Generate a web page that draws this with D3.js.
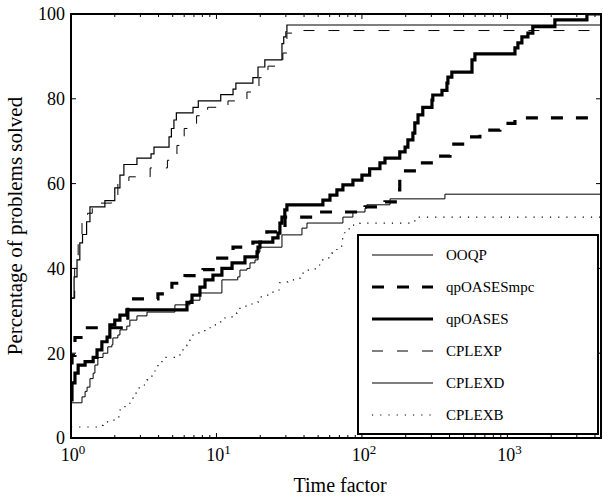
<!DOCTYPE html>
<html>
<head>
<meta charset="utf-8">
<script src="https://cdn.jsdelivr.net/npm/d3@7"></script>
<style>
  body { margin: 0; background: #fff; }
  text { font-family: "Liberation Serif", "Times New Roman", serif; fill: #000; }
</style>
</head>
<body>
<svg id="chart" width="604" height="498"></svg>
<script>
// performance profile data: [time factor, % solved] at each step
const ooqp = [[1,8.3],[1.19,9.7],[1.25,11],[1.29,12],[1.35,14],[1.42,15.3],[1.46,17.2],[1.53,19],[1.66,20],
  [1.79,21.5],[1.91,22],[1.94,23.6],[2.1,24.3],[2.17,25.5],[2.42,26.4],[2.54,27.8],[2.84,28.8],[3.33,29.7],
  [5.18,31.4],[6.57,32.5],[7.7,34.2],[10.9,37.3],[14,38],[14.5,39.6],[16.2,40],[17,41.3],[18.4,42],[19.3,43.9],
  [19.9,45],[28.2,47.9],[38.7,49.5],[41.9,50.7],[74,52.1],[86.7,53.3],[105,54.2],[108,55],[156,56.4],[372,57.5]];

const qpOASESmpc = [[1,17.7],[1.016,19.5],[1.065,23.7],[1.25,26],[2.46,32.8],[3.96,34],[4.94,36.5],[6.08,38.3],
  [8.08,39.7],[10.2,42.4],[13,45],[17.8,46.2],[22.2,48.6],[29.6,52.1],[47.7,53.3],[105,54.5],[144,55.7],
  [174,58.5],[182,63],[243,64.9],[327,66.5],[403,69.3],[510,71],[647,72.6],[888,74.2],[1127,75.5]];

const qpOASES = [[1,9],[1.016,13],[1.065,15.3],[1.12,17.2],[1.25,18],[1.42,19],[1.51,20.8],[1.63,22.7],[1.77,23.8],
  [1.85,26.7],[2.0,27.8],[2.17,29],[2.42,30.2],[6.27,32],[6.79,33.7],[7.7,35.6],[8.34,37.3],[9.46,38.4],
  [10.9,40],[12.8,41.3],[15.7,42.7],[19,43.9],[19.3,45],[19.9,46.2],[24.4,47.2],[26.5,48.3],[27.3,50.7],
  [28.2,52.1],[29.5,53.8],[30.5,55],[53.9,56.1],[60.3,57.3],[67.3,58.5],[74,59.7],[86.7,60.8],[100,62],
  [113,63.5],[133,64.9],[144,66],[182,67.5],[198,68.6],[207,70.3],[224,71.9],[231,74.3],[243,76.2],[262,78],
  [303,79.7],[307,80.9],[355,82],[384,83.7],[390,85.1],[415,86.3],[571,89.2],[598,90.6],[1127,92],[1181,93.2],
  [1258,94.6],[1384,95.5],[1495,97],[2120,98.6],[3520,100]];

const cplexP = [[1,33],[1.06,40],[1.12,46],[1.19,50.7],[1.3,53],[1.4,55.4],[1.9,57],[2.1,60],[2.5,61.6],[3.5,63.7],
  [4.6,65.5],[5.35,69],[6.0,73],[7.3,76],[8.7,78],[12,79.5],[16.2,81.6],[19.6,85],[22.6,87.7],[28.6,90.8],
  [30.5,95.5],[33,96.1]];

const cplexD = [[1,33],[1.05,38],[1.1,42],[1.15,46],[1.2,48],[1.28,51],[1.35,54.5],[1.71,56],[2.0,59],[2.17,62],
  [2.31,64.5],[2.84,66],[3.55,67],[3.72,68.6],[4.72,71],[4.9,73],[5.1,75],[5.3,76.7],[6.9,78],[7.5,79.5],
  [10.7,81],[13,82.3],[13.6,83.7],[17.8,85],[19.3,87.5],[21.5,89.2],[28.2,93],[29,94.6],[30,95.8],[30.5,97.4]];

const cplexB = [[1,2.6],[1.55,3],[1.66,3.8],[1.91,4.2],[2.07,5],[2.17,6.6],[2.35,8.2],[2.54,9.4],[2.67,10.6],
  [2.89,11.8],[3.12,12.5],[3.33,13.7],[3.6,14.9],[3.78,16],[3.96,17.2],[4.22,19],[5.35,19.6],[5.79,20.8],
  [6.27,21.9],[6.57,23.1],[6.89,24.8],[8.32,26],[9.46,26.7],[10.2,27.4],[11.4,28.3],[12.8,28.8],[13.8,29.5],
  [14.5,31.1],[16.2,31.6],[17.8,32],[19.3,33.3],[20.8,33.7],[23.3,34.4],[26,34.9],[27.3,36.8],[31,37.3],
  [34.6,37.7],[37.6,38.9],[40.5,39.6],[46,39.9],[49.9,40.8],[53.2,42],[58.3,42.5],[62.1,43.6],[67.3,45],
  [72.6,46.2],[73.7,47.9],[76.2,49.3],[86.7,50.2],[97,50.7],[231,52.1]];

const seriesNames = ["OOQP", "qpOASESmpc", "qpOASES", "CPLEXP", "CPLEXD", "CPLEXB"];
const yTicks = [0, 20, 40, 60, 80, 100];
const xDecades = [0, 1, 2, 3];
const xMax = 4400;

// styles des courbes
const styles = {
  "OOQP":       {data: ooqp,       w: 1,   dash: null},
  "qpOASESmpc": {data: qpOASESmpc, w: 3.2, dash: "12,13"},
  "qpOASES":    {data: qpOASES,    w: 3.2, dash: null},
  "CPLEXP":     {data: cplexP,     w: 1,   dash: "11,14"},
  "CPLEXD":     {data: cplexD,     w: 1.2, dash: null},
  "CPLEXB":     {data: cplexB,     w: 1.2, dash: "1.2,7"}
};

let margin = {top: 14, right: 3, bottom: 60, left: 71};
let width = 604 - margin.left - margin.right;
let height = 498 - margin.top - margin.bottom;

let svg = d3.select("#chart");
let g = svg.append("g").attr("transform", `translate(${margin.left},${margin.top})`);

let x = d3.scaleLog().domain([1, xMax]).range([0, width]);
let y = d3.scaleLinear().domain([0, 100]).range([height, 0]);

svg.append("defs").append("clipPath").attr("id", "clip")
  .append("rect").attr("width", width).attr("height", height);

// ticks majeurs et mineurs
let minor = [];
for (let e = 0; e < 4; e++) {
  for (let k = 2; k <= 9; k++) {
    let v = k * Math.pow(10, e);
    if (v < xMax) minor.push(v);
  }
}
let major = xDecades.map(d => Math.pow(10, d));

let ticks = g.append("g").attr("stroke", "#000").attr("stroke-width", 1);
major.forEach(v => {
  ticks.append("line").attr("x1", x(v)).attr("x2", x(v)).attr("y1", height).attr("y2", height - 5);
  ticks.append("line").attr("x1", x(v)).attr("x2", x(v)).attr("y1", 0).attr("y2", 5);
});
minor.forEach(v => {
  ticks.append("line").attr("x1", x(v)).attr("x2", x(v)).attr("y1", height).attr("y2", height - 3);
  ticks.append("line").attr("x1", x(v)).attr("x2", x(v)).attr("y1", 0).attr("y2", 3);
});
yTicks.forEach(v => {
  ticks.append("line").attr("x1", 0).attr("x2", 5).attr("y1", y(v)).attr("y2", y(v));
  ticks.append("line").attr("x1", width).attr("x2", width - 5).attr("y1", y(v)).attr("y2", y(v));
});

// labels des axes
g.selectAll(".ylab").data(yTicks).enter().append("text")
  .attr("class", "ylab")
  .attr("x", -6).attr("y", d => y(d))
  .attr("dy", "0.35em")
  .attr("text-anchor", "end")
  .style("font-size", "18px")
  .text(d => d);

let xl = g.selectAll(".xlab").data(xDecades).enter().append("text")
  .attr("class", "xlab")
  .attr("x", d => x(Math.pow(10, d)) + 2)
  .attr("y", height + 23)
  .attr("text-anchor", "middle")
  .style("font-size", "18px");
xl.append("tspan").text("10");
xl.append("tspan").attr("dy", -7).style("font-size", "13px").text(d => d);

g.append("text")
  .attr("x", x(Math.pow(10, 1.85)))
  .attr("y", height + 54)
  .attr("text-anchor", "middle")
  .style("font-size", "20px")
  .text("Time factor");

g.append("text")
  .attr("transform", `translate(${-49},${height / 2}) rotate(-90)`)
  .attr("text-anchor", "middle")
  .style("font-size", "21px")
  .text("Percentage of problems solved");

// courbes
let line = d3.line()
  .x(d => x(d[0]))
  .y(d => y(d[1]))
  .curve(d3.curveStepAfter);

let curves = g.append("g").attr("clip-path", "url(#clip)");
seriesNames.forEach(name => {
  let s = styles[name];
  let pts = s.data.concat([[xMax, s.data[s.data.length - 1][1]]]);
  curves.append("path")
    .datum(pts)
    .attr("fill", "none")
    .attr("stroke", "#000")
    .attr("stroke-width", s.w)
    .attr("stroke-dasharray", s.dash)
    .attr("d", line);
});

// cadre
g.append("rect")
  .attr("width", width).attr("height", height)
  .attr("fill", "none").attr("stroke", "#000").attr("stroke-width", 2);

// légende
let lg = svg.append("g").attr("transform", "translate(358,235)");
lg.append("rect")
  .attr("width", 240).attr("height", 199)
  .attr("fill", "#fff").attr("stroke", "#000").attr("stroke-width", 2);

seriesNames.forEach((name, i) => {
  let s = styles[name];
  let yy = 20 + i * 32;
  lg.append("line")
    .attr("x1", 14).attr("x2", 75).attr("y1", yy).attr("y2", yy)
    .attr("stroke", "#000")
    .attr("stroke-width", s.w)
    .attr("stroke-dasharray", s.dash);
  lg.append("text")
    .attr("x", 88).attr("y", yy)
    .attr("dy", "0.35em")
    .style("font-size", "15px")
    .text(name);
});
</script>
</body>
</html>
